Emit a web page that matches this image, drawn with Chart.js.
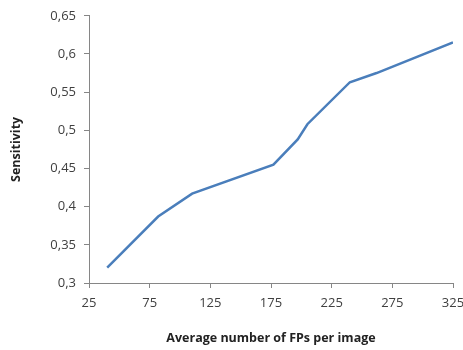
<!DOCTYPE html>
<html lang="en">
<head>
<meta charset="UTF-8">
<title>Sensitivity vs FPs</title>
<script src="https://cdn.jsdelivr.net/npm/chart.js"></script>
<style>
  html, body { margin: 0; padding: 0; background: #fff; }
  #box { width: 463px; height: 350px; }
</style>
</head>
<body>
<div id="box"><canvas id="grafico"></canvas></div>
<script>
// valores
const fpsPorImagem = [40, 82, 110, 177, 197, 205, 240, 262, 325];
const sensibilidade = [0.320, 0.387, 0.417, 0.455, 0.488, 0.508, 0.563, 0.575, 0.615];
const ticksX = [25, 75, 125, 175, 225, 275, 325];
const ticksY = [0.3, 0.35, 0.4, 0.45, 0.5, 0.55, 0.6, 0.65];

const pontos = fpsPorImagem.map((x, i) => ({ x: x, y: sensibilidade[i] }));
const cinza = '#868686';
const fonte = 'Open Sans';

new Chart(document.getElementById('grafico'), {
  type: 'scatter',
  data: {
    datasets: [{
      data: pontos,
      showLine: true,
      borderColor: '#4a7ebb',
      borderWidth: 2.5,
      pointRadius: 0,
      tension: 0
    }]
  },
  options: {
    responsive: true,
    maintainAspectRatio: false,
    animation: false,
    layout: { padding: { top: 15, right: 10, left: 5, bottom: 0 } },
    plugins: { legend: { display: false }, tooltip: { enabled: false } },
    scales: {
      x: {
        type: 'linear',
        min: 25, max: 325,
        afterBuildTicks: s => { s.ticks = ticksX.map(v => ({ value: v })); },
        afterFit: s => { s.height = 67; s.paddingRight = 0; },
        grid: { drawOnChartArea: false, drawTicks: true, tickLength: 5, color: cinza },
        border: { color: cinza },
        ticks: { color: '#404040', font: { family: fonte, size: 13 }, padding: 7, maxRotation: 0 },
        title: { display: true, text: 'Average number of FPs per image', color: '#222',
                 font: { family: fonte, size: 12.5, weight: 'bold' }, padding: { top: 12 } }
      },
      y: {
        min: 0.3, max: 0.65,
        afterBuildTicks: s => { s.ticks = ticksY.map(v => ({ value: v })); },
        afterFit: s => { s.width = 84; },
        grid: { drawOnChartArea: false, drawTicks: true, tickLength: 5, color: cinza },
        border: { color: cinza },
        ticks: {
          color: '#404040', font: { family: fonte, size: 13 }, padding: 8,
          callback: v => String(+v.toFixed(2)).replace('.', ',')
        },
        title: { display: true, text: 'Sensitivity', color: '#222',
                 font: { family: fonte, size: 12.5, weight: 'bold' }, padding: { bottom: 4 } }
      }
    }
  }
});
</script>
</body>
</html>
